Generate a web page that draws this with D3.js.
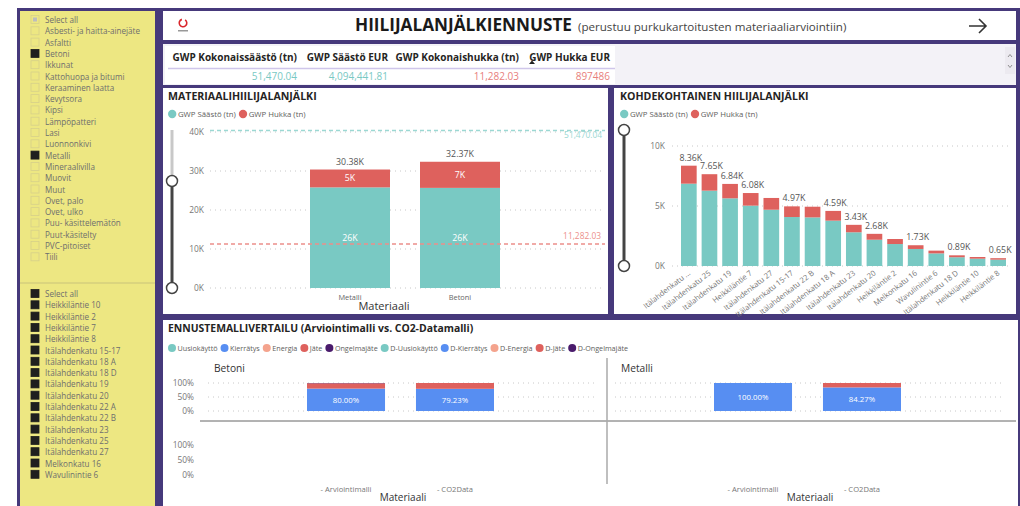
<!DOCTYPE html>
<html>
<head>
<meta charset="utf-8">
<script src="https://cdn.jsdelivr.net/npm/d3@7"></script>
<style>
  body { margin: 0; background: #fff; }
  svg { display: block; font-family: "Open Sans", "Noto Sans", sans-serif; }
</style>
</head>
<body>
<svg id="raportti" width="1020" height="506"></svg>
<script>
// --- Slicerit ---
var materiaalit = ["Select all", "Asbesti- ja haitta-ainejäte", "Asfaltti", "Betoni", "Ikkunat",
  "Kattohuopa ja bitumi", "Keraaminen laatta", "Kevytsora", "Kipsi", "Lämpöpatteri", "Lasi",
  "Luonnonkivi", "Metalli", "Mineraalivilla", "Muovit", "Muut", "Ovet, palo", "Ovet, ulko",
  "Puu- käsittelemätön", "Puut-käsitelty", "PVC-pitoiset", "Tiili"];
var valitutMateriaalit = ["Betoni", "Metalli"];
var kohteet = ["Select all", "Heikkiläntie 10", "Heikkiläntie 2", "Heikkiläntie 7", "Heikkiläntie 8",
  "Itälahdenkatu 15-17", "Itälahdenkatu 18 A", "Itälahdenkatu 18 D", "Itälahdenkatu 19",
  "Itälahdenkatu 20", "Itälahdenkatu 22 A", "Itälahdenkatu 22 B", "Itälahdenkatu 23",
  "Itälahdenkatu 25", "Itälahdenkatu 27", "Melkonkatu 16", "Wavulinintie 6"];

// --- KPI-taulukko ---
var kpiOtsikot = ["GWP Kokonaissäästö (tn)", "GWP Säästö EUR", "GWP Kokonaishukka (tn)", "GWP Hukka EUR"];
var kpiArvot = ["51,470.04", "4,094,441.81", "11,282.03", "897486"];

// --- Materiaalihiilijalanjälki ---
var matKategoriat = ["Metalli", "Betoni"];
var matSaasto = [25800, 25670];
var matHukka = [4580, 6700];
var matTicks = [0, 10000, 20000, 30000, 40000];
var viivaSaasto = 51470.04;
var viivaHukka = 11282.03;

// --- Kohdekohtainen hiilijalanjälki ---
var kohdeNimet = ["Itälahdenkatu ...", "Itälahdenkatu 25", "Itälahdenkatu 19", "Heikkiläntie 7",
  "Itälahdenkatu 27", "Itälahdenkatu 15-17", "Itälahdenkatu 22 B", "Itälahdenkatu 18 A",
  "Itälahdenkatu 23", "Itälahdenkatu 20", "Heikkiläntie 2", "Melkonkatu 16", "Wavulinintie 6",
  "Itälahdenkatu 18 D", "Heikkiläntie 10", "Heikkiläntie 8"];
var kohdeSaasto = [6860, 6280, 5640, 5030, 4690, 4080, 4050, 3780, 2810, 2190, 1830, 1420, 1050, 730, 610, 530];
var kohdeHukka = [1500, 1370, 1200, 1050, 980, 890, 890, 810, 620, 490, 420, 310, 230, 160, 140, 120];
var kohdeTicks = [0, 5000, 10000];

// --- Ennustemallivertailu ---
var luokat = ["Uusiokäyttö", "Kierrätys", "Energia", "Jäte", "Ongelmajäte"];
var luokkaVarit = ["#79c9c3", "#578ef2", "#f4a38d", "#de615d", "#4a1b6c"];
var mallit = ["- Arviointimalli", "- CO2Data"];
var vertailuMateriaalit = ["Betoni", "Metalli"];
// osuudet (%) järjestyksessä luokat[]
var betoniArviointi = [0, 80.00, 0, 19.0, 1.0];
var betoniCO2 = [0, 79.23, 0, 20.77, 0];
var metalliArviointi = [0, 100.00, 0, 0, 0];
var metalliCO2 = [0, 84.27, 0, 15.73, 0];
var prosenttiTicks = [0, 50, 100];

var TEAL = "#79c9c3", RED = "#de615d";

var svg = d3.select("#raportti");

// Taustat ja paneelit
svg.append("rect").attr("x", 17).attr("y", 8).attr("width", 1003).attr("height", 498).attr("fill", "#46397b");
svg.append("rect").attr("x", 20).attr("y", 11).attr("width", 135).attr("height", 495).attr("fill", "#ede782");
var paneelit = [
  [163, 11, 853, 29, "#ffffff"],
  [163, 44, 853, 41, "#f3f2f7"],
  [163, 88, 445, 226, "#ffffff"],
  [614, 88, 402, 226, "#ffffff"],
  [163, 320, 855, 186, "#ffffff"]
];
svg.selectAll(".paneeli").data(paneelit).enter().append("rect")
  .attr("class", "paneeli")
  .attr("x", d => d[0]).attr("y", d => d[1])
  .attr("width", d => d[2]).attr("height", d => d[3])
  .attr("fill", d => d[4]);
svg.append("rect").attr("x", 165).attr("y", 46).attr("width", 450).attr("height", 38).attr("fill", "#fff");

// --- Slicerit ---
function slicer(lista, y0, tila) {
  var g = svg.append("g");
  var rivi = g.selectAll("g").data(lista).enter().append("g")
    .attr("transform", (d, i) => "translate(0," + (y0 + i * 11.3) + ")");
  rivi.append("rect")
    .attr("x", 31).attr("y", -4.5).attr("width", 8).attr("height", 8)
    .attr("fill", d => tila(d) === 1 ? "#1f1f1f" : "none")
    .attr("stroke", d => tila(d) === 1 ? "#1f1f1f" : "#d6d08a")
    .attr("stroke-width", 0.8);
  rivi.filter(d => tila(d) === 2).append("rect")
    .attr("x", 33).attr("y", -2.5).attr("width", 4).attr("height", 4).attr("fill", "#bdbdbd");
  rivi.append("text")
    .attr("x", 45).attr("y", 3)
    .attr("font-size", 8.1).attr("fill", "#6e6e6e")
    .text(d => d);
}
slicer(materiaalit, 20, d => d === "Select all" ? 2 : (valitutMateriaalit.indexOf(d) >= 0 ? 1 : 0));
svg.append("line").attr("x1", 20).attr("x2", 155).attr("y1", 283).attr("y2", 283)
  .attr("stroke", "#c9c37a").attr("stroke-width", 1);
slicer(kohteet, 294, d => 1);

// --- Otsikko ---
var logo = svg.append("g").attr("transform", "translate(183,23)");
logo.append("path").attr("d", d3.arc()({ innerRadius: 3, outerRadius: 4.6, startAngle: 0.6, endAngle: 2 * Math.PI - 0.3 }))
  .attr("fill", "#d9262c");
logo.append("rect").attr("x", -5).attr("y", 7).attr("width", 10).attr("height", 1.5).attr("fill", "#999");
var otsikko = svg.append("text").attr("x", 355).attr("y", 31).attr("fill", "#1a1a1a");
otsikko.append("tspan").attr("font-size", 17.2).attr("font-weight", 700).text("HIILIJALANJÄLKIENNUSTE");
otsikko.append("tspan").attr("font-size", 11.6).attr("fill", "#444").attr("dx", 6)
  .text("(perustuu purkukartoitusten materiaaliarviointiin)");
svg.append("path").attr("d", "M969,26 H986 M979,19 L986,26 L979,33")
  .attr("fill", "none").attr("stroke", "#333").attr("stroke-width", 1.6);

// --- KPI ---
var kpiReunat = [297, 388, 519, 610];
var kpiVarit = [TEAL, TEAL, "#e8807c", "#e8807c"];
svg.selectAll(".kpiOts").data(kpiOtsikot).enter().append("text")
  .attr("class", "kpiOts")
  .attr("x", (d, i) => kpiReunat[i]).attr("y", 61)
  .attr("text-anchor", "end").attr("font-size", 10).attr("font-weight", 700).attr("fill", "#252423")
  .text(d => d);
svg.append("line").attr("x1", 168).attr("x2", 615).attr("y1", 68.5).attr("y2", 68.5)
  .attr("stroke", "#cfc6ea").attr("stroke-width", 1.5);
svg.selectAll(".kpiArvo").data(kpiArvot).enter().append("text")
  .attr("class", "kpiArvo")
  .attr("x", (d, i) => kpiReunat[i]).attr("y", 80)
  .attr("text-anchor", "end").attr("font-size", 10).attr("fill", (d, i) => kpiVarit[i])
  .text(d => d);
svg.append("path").attr("d", "M529,64 L532,60.5 L535,64 Z").attr("fill", "#222");
svg.append("rect").attr("x", 1005).attr("y", 47).attr("width", 10).attr("height", 27).attr("fill", "#eceaf0");
svg.append("path").attr("d", "M1008,57 L1010,54.5 L1012,57 M1008,65 L1010,67.5 L1012,65")
  .attr("fill", "none").attr("stroke", "#777").attr("stroke-width", 0.8);

// --- Yhteiset apufunktiot ---
function paneelinOtsikko(x, y, teksti, koko) {
  svg.append("text").attr("x", x).attr("y", y)
    .attr("font-size", koko).attr("font-weight", 700).attr("fill", "#252423").text(teksti);
}
function selite(x, y, nimet, varit, koko, r) {
  var g = svg.append("g");
  var cx = x;
  nimet.forEach(function (n, i) {
    g.append("circle").attr("cx", cx + r).attr("cy", y).attr("r", r).attr("fill", varit[i]);
    var t = g.append("text").attr("x", cx + 2 * r + 1.5).attr("y", y + 2.8)
      .attr("font-size", koko).attr("fill", "#605e5c").text(n);
    cx += 2 * r + 1.5 + t.node().getComputedTextLength() + 3;
  });
}
function liukusaadin(x, y1, yKahva, y2) {
  svg.append("line").attr("x1", x).attr("x2", x).attr("y1", y1).attr("y2", yKahva)
    .attr("stroke", yKahva > y1 ? "#c8c8c8" : "#444").attr("stroke-width", 3);
  svg.append("line").attr("x1", x).attr("x2", x).attr("y1", yKahva).attr("y2", y2)
    .attr("stroke", "#444").attr("stroke-width", 3);
  svg.selectAll(null).data([yKahva, y2]).enter().append("circle")
    .attr("cx", x).attr("cy", d => d).attr("r", 5.5)
    .attr("fill", "#fff").attr("stroke", "#444").attr("stroke-width", 1.5);
}
function kFormat(v) { return d3.format(".2f")(v / 1000) + "K"; }

// --- MATERIAALIHIILIJALANJÄLKI ---
paneelinOtsikko(168, 100, "MATERIAALIHIILIJALANJÄLKI", 10.6);
selite(168, 114, ["GWP Säästö (tn)", "GWP Hukka (tn)"], [TEAL, RED], 7.8, 4.2);
liukusaadin(172, 130, 181, 288);

var yMat = d3.scaleLinear().domain([0, 40000]).range([288, 132]);
var xMat = d3.scaleBand().domain(matKategoriat).range([310, 500]).paddingInner(0.2727).paddingOuter(0);

var gMat = svg.append("g");
gMat.selectAll(".grid").data(matTicks).enter().append("line")
  .attr("x1", 210).attr("x2", 605).attr("y1", d => yMat(d)).attr("y2", d => yMat(d))
  .attr("stroke", "#c8c8c8").attr("stroke-dasharray", "1,4");
var yAksMat = gMat.append("g").attr("transform", "translate(204,0)")
  .call(d3.axisLeft(yMat).tickValues(matTicks).tickFormat(d => (d / 1000) + "K").tickSize(0).tickPadding(0));
yAksMat.select(".domain").remove();
yAksMat.selectAll("text").attr("font-size", 8.4).attr("fill", "#777").attr("font-family", "Open Sans");

var pinot = matKategoriat.map((k, i) => ({ k: k, s: matSaasto[i], h: matHukka[i] }));
gMat.selectAll(".saasto").data(pinot).enter().append("rect")
  .attr("x", d => xMat(d.k)).attr("width", xMat.bandwidth())
  .attr("y", d => yMat(d.s)).attr("height", d => yMat(0) - yMat(d.s)).attr("fill", TEAL);
gMat.selectAll(".hukka").data(pinot).enter().append("rect")
  .attr("x", d => xMat(d.k)).attr("width", xMat.bandwidth())
  .attr("y", d => yMat(d.s + d.h)).attr("height", d => yMat(d.s) - yMat(d.s + d.h)).attr("fill", RED);
gMat.selectAll(".summa").data(pinot).enter().append("text")
  .attr("x", d => xMat(d.k) + xMat.bandwidth() / 2).attr("y", d => yMat(d.s + d.h) - 5)
  .attr("text-anchor", "middle").attr("font-size", 8.8).attr("fill", "#555")
  .text(d => kFormat(d.s + d.h));
gMat.selectAll(".hukkaLbl").data(pinot).enter().append("text")
  .attr("x", d => xMat(d.k) + xMat.bandwidth() / 2).attr("y", d => (yMat(d.s) + yMat(d.s + d.h)) / 2 + 3)
  .attr("text-anchor", "middle").attr("font-size", 8.8).attr("fill", "#fff")
  .text(d => Math.round(d.h / 1000) + "K");
gMat.selectAll(".saastoLbl").data(pinot).enter().append("text")
  .attr("x", d => xMat(d.k) + xMat.bandwidth() / 2).attr("y", d => (yMat(0) + yMat(d.s)) / 2 + 3)
  .attr("text-anchor", "middle").attr("font-size", 8.8).attr("fill", "#fff")
  .text(d => Math.round(d.s / 1000) + "K");

// vakioviivat
var ySaastoViiva = yMat(Math.min(viivaSaasto, yMat.domain()[1])) - 1.5;
gMat.append("line").attr("x1", 210).attr("x2", 605).attr("y1", ySaastoViiva).attr("y2", ySaastoViiva)
  .attr("stroke", "#9bd8d3").attr("stroke-width", 1.6).attr("stroke-dasharray", "4,3");
gMat.append("text").attr("x", 602).attr("y", ySaastoViiva + 7).attr("text-anchor", "end")
  .attr("font-size", 8.4).attr("fill", "#9bd8d3").text(d3.format(",.2f")(viivaSaasto));
gMat.append("line").attr("x1", 210).attr("x2", 605).attr("y1", yMat(viivaHukka)).attr("y2", yMat(viivaHukka))
  .attr("stroke", "#ec8f8b").attr("stroke-width", 1.6).attr("stroke-dasharray", "4,3");
gMat.append("text").attr("x", 601).attr("y", yMat(viivaHukka) - 5).attr("text-anchor", "end")
  .attr("font-size", 8.4).attr("fill", "#ec8f8b").text(d3.format(",.2f")(viivaHukka));

var xAksMat = gMat.append("g").attr("transform", "translate(0,288)")
  .call(d3.axisBottom(xMat).tickSize(0).tickPadding(7));
xAksMat.select(".domain").remove();
xAksMat.selectAll("text").attr("font-size", 7.4).attr("fill", "#666").attr("font-family", "Open Sans");
gMat.append("text").attr("x", 384).attr("y", 310).attr("text-anchor", "middle")
  .attr("font-size", 11).attr("fill", "#333").text("Materiaali");

// --- KOHDEKOHTAINEN HIILIJALANJÄLKI ---
paneelinOtsikko(620, 100, "KOHDEKOHTAINEN HIILIJALANJÄLKI", 10.6);
selite(620, 114, ["GWP Säästö (tn)", "GWP Hukka (tn)"], [TEAL, RED], 7.8, 4.2);
liukusaadin(624, 130, 130, 266);

var yKoh = d3.scaleLinear().domain([0, 10000]).range([266, 146]);
var xKoh = d3.scaleBand().domain(kohdeNimet).range([681, 1006]).paddingInner(0.24).paddingOuter(0);
var gKoh = svg.append("g");
gKoh.selectAll(".grid").data(kohdeTicks).enter().append("line")
  .attr("x1", 672).attr("x2", 1010).attr("y1", d => yKoh(d)).attr("y2", d => yKoh(d))
  .attr("stroke", "#c8c8c8").attr("stroke-dasharray", "1,4");
var yAksKoh = gKoh.append("g").attr("transform", "translate(665,0)")
  .call(d3.axisLeft(yKoh).tickValues(kohdeTicks).tickFormat(d => (d / 1000) + "K").tickSize(0).tickPadding(0));
yAksKoh.select(".domain").remove();
yAksKoh.selectAll("text").attr("font-size", 8.4).attr("fill", "#777").attr("font-family", "Open Sans");

var kohdeData = kohdeNimet.map((k, i) => ({ k: k, s: kohdeSaasto[i], h: kohdeHukka[i] }));
gKoh.selectAll(".s").data(kohdeData).enter().append("rect")
  .attr("x", d => xKoh(d.k)).attr("width", xKoh.bandwidth())
  .attr("y", d => yKoh(d.s)).attr("height", d => yKoh(0) - yKoh(d.s)).attr("fill", TEAL);
gKoh.selectAll(".h").data(kohdeData).enter().append("rect")
  .attr("x", d => xKoh(d.k)).attr("width", xKoh.bandwidth())
  .attr("y", d => yKoh(d.s + d.h)).attr("height", d => yKoh(d.s) - yKoh(d.s + d.h)).attr("fill", RED);
// summa-labelit, piilotetaan päällekkäiset kuten Power BI
var edellinen = null;
kohdeData.forEach(function (d) {
  var cx = xKoh(d.k) + xKoh.bandwidth() / 2;
  var y = yKoh(d.s + d.h) - 5;
  var laatikko = { x0: cx - 14, x1: cx + 14, y1: y };
  var paallekkain = edellinen && laatikko.x0 < edellinen.x1 && Math.abs(laatikko.y1 - edellinen.y1) < 7;
  if (!paallekkain) {
    gKoh.append("text").attr("x", cx + 2).attr("y", y).attr("text-anchor", "middle")
      .attr("font-size", 8.8).attr("fill", "#555").text(kFormat(d.s + d.h));
    edellinen = laatikko;
  }
});
var xAksKoh = gKoh.append("g").attr("transform", "translate(0,266)")
  .call(d3.axisBottom(xKoh).tickSize(0).tickPadding(0));
xAksKoh.select(".domain").remove();
xAksKoh.selectAll("text").attr("font-size", 7.6).attr("fill", "#777").attr("font-family", "Open Sans")
  .attr("text-anchor", "end").attr("dy", 0).attr("transform", "translate(2,8) rotate(-38)");

// --- ENNUSTEMALLIVERTAILU ---
paneelinOtsikko(168, 332, "ENNUSTEMALLIVERTAILU (Arviointimalli vs. CO2-Datamalli)", 10.4);
selite(168, 348, luokat.concat(luokat.map(l => "D-" + l)), luokkaVarit.concat(luokkaVarit), 7.2, 4);

var paneeliX = d3.scaleBand().domain(vertailuMateriaalit).range([200, 1014]);
var osuudet = {
  "Betoni": [betoniArviointi, betoniCO2],
  "Metalli": [metalliArviointi, metalliCO2]
};
var yRivi1 = d3.scaleLinear().domain([0, 100]).range([411, 383]);
var yRivi2 = d3.scaleLinear().domain([0, 100]).range([475, 445]);

[yRivi1, yRivi2].forEach(function (ys) {
  var a = svg.append("g").attr("transform", "translate(194,0)")
    .call(d3.axisLeft(ys).tickValues(prosenttiTicks).tickFormat(d => d + "%").tickSize(0).tickPadding(0));
  a.select(".domain").remove();
  a.selectAll("text").attr("font-size", 8.4).attr("fill", "#777").attr("font-family", "Open Sans");
});

vertailuMateriaalit.forEach(function (m) {
  var px = paneeliX(m);
  var g = svg.append("g");
  g.append("text").attr("x", px + 14).attr("y", 372)
    .attr("font-size", 10.2).attr("fill", "#333").text(m);
  g.selectAll(".grid").data(prosenttiTicks).enter().append("line")
    .attr("x1", px + 8).attr("x2", px + 398).attr("y1", d => yRivi1(d)).attr("y2", d => yRivi1(d))
    .attr("stroke", "#c8c8c8").attr("stroke-dasharray", "1,4");
  var xm = d3.scaleBand().domain(mallit).range([px + 107, px + 294]).paddingInner(0.284).paddingOuter(0);
  mallit.forEach(function (malli, mi) {
    var arvot = osuudet[m][mi];
    var kum = 0;
    arvot.forEach(function (v, li) {
      if (v <= 0) return;
      g.append("rect").attr("x", xm(malli)).attr("width", xm.bandwidth())
        .attr("y", yRivi1(kum + v)).attr("height", yRivi1(kum) - yRivi1(kum + v))
        .attr("fill", luokkaVarit[li]);
      if (v > 50) {
        g.append("text").attr("x", xm(malli) + xm.bandwidth() / 2)
          .attr("y", (yRivi1(kum) + yRivi1(kum + v)) / 2 + 3)
          .attr("text-anchor", "middle").attr("font-size", 7.8).attr("fill", "#fff")
          .text(d3.format(".2f")(v) + "%");
      }
      kum += v;
    });
  });
  var xa = g.append("g").attr("transform", "translate(0,487)")
    .call(d3.axisBottom(xm).tickSize(0).tickPadding(0));
  xa.select(".domain").remove();
  xa.selectAll("text").attr("font-size", 7.6).attr("fill", "#777").attr("font-family", "Open Sans");
  g.append("text").attr("x", px + 203).attr("y", 501).attr("text-anchor", "middle")
    .attr("font-size", 10).attr("fill", "#333").text("Materiaali");
});
svg.append("line").attr("x1", 200).attr("x2", 1016).attr("y1", 421).attr("y2", 421)
  .attr("stroke", "#666").attr("stroke-width", 1);
svg.append("line").attr("x1", 607).attr("x2", 607).attr("y1", 358).attr("y2", 484)
  .attr("stroke", "#aaa").attr("stroke-width", 1.5);
</script>
</body>
</html>
